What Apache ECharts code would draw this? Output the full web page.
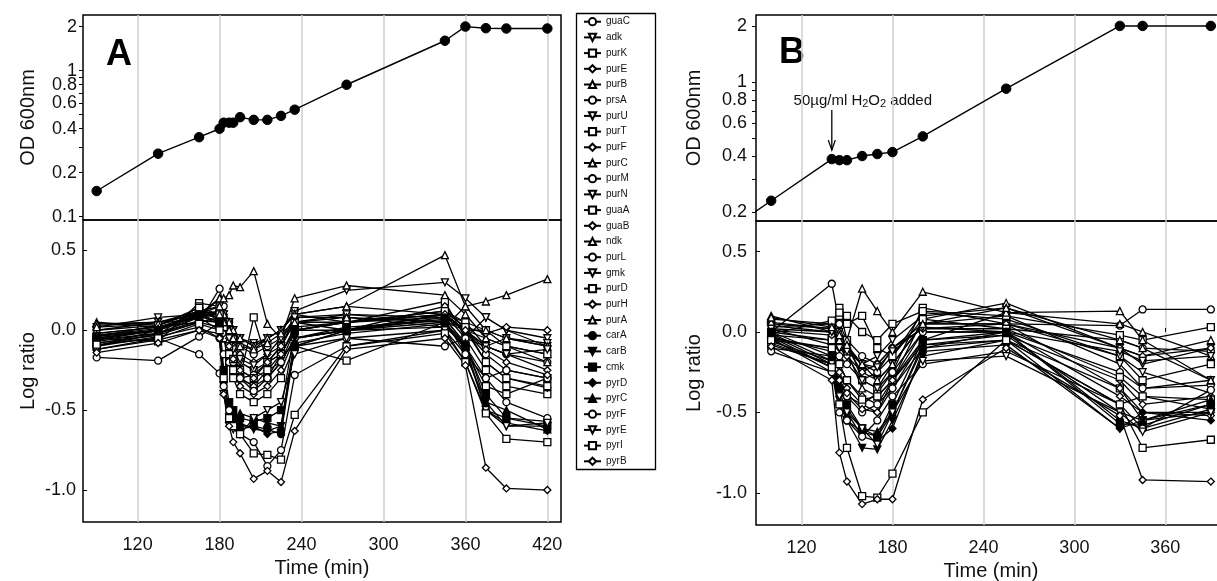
<!DOCTYPE html>
<html>
<head>
<meta charset="utf-8">
<script src="https://cdn.jsdelivr.net/npm/echarts@6/dist/echarts.min.js"></script>
<style>
  html, body { margin: 0; padding: 0; background: #fff; }
  #chart { width: 1217px; height: 581px; }
</style>
</head>
<body>
<div id="chart"></div>
<script>
// ---- growth curves, OD 600nm ----
var odTimesA = [90, 135, 165, 180, 183, 187, 190, 195, 205, 215, 225, 235, 273, 345, 360, 375, 390, 420];
var odA = [0.15, 0.27, 0.35, 0.40, 0.44, 0.44, 0.44, 0.48, 0.46, 0.46, 0.49, 0.54, 0.80, 1.6, 2.0, 1.95, 1.94, 1.94];
// first B point lies left of the axis, the line runs in from the edge
var odTimesB = [75, 100, 140, 145, 150, 160, 170, 180, 200, 255, 330, 345, 390];
var odB = [0.166, 0.23, 0.385, 0.38, 0.38, 0.40, 0.41, 0.42, 0.51, 0.92, 2.0, 2.0, 2.0];

// ---- sampling times of the log ratio panels ----
var timesA = [90, 135, 165, 180, 183, 187, 190, 195, 205, 215, 225, 235, 273, 345, 360, 375, 390, 420];
var timesB = [100, 140, 145, 150, 160, 170, 180, 200, 255, 330, 345, 390];

var genes = ['guaC', 'adk', 'purK', 'purE', 'purB', 'prsA', 'purU', 'purT', 'purF', 'purC',
  'purM', 'purN', 'guaA', 'guaB', 'ndk', 'purL', 'gmk', 'purD', 'purH', 'purA',
  'carA', 'carB', 'cmk', 'pyrD', 'pyrC', 'pyrF', 'pyrE', 'pyrI', 'pyrB'];

// panel A log ratios
var A_guaC = [-0.17, -0.19, -0.04, 0.05, 0.0, -0.1, -0.15, -0.2, -0.25, -0.3, -0.2, -0.05, 0.0, 0.02, -0.1, -0.3, -0.25, -0.3];
var A_adk = [0.02, 0.08, 0.1, 0.12, 0.1, 0.05, 0.0, -0.05, -0.08, -0.05, 0.0, 0.12, 0.25, 0.3, 0.2, 0.08, 0.0, -0.05];
var A_purK = [-0.05, -0.07, 0.17, 0.15, 0.05, -0.1, -0.2, -0.3, -0.35, -0.3, -0.15, 0.0, 0.05, 0.18, -0.05, -0.25, -0.35, -0.4];
var A_purE = [-0.03, 0.0, 0.1, 0.1, 0.0, -0.15, -0.25, -0.35, -0.4, -0.35, -0.25, -0.05, 0.0, 0.15, 0.0, -0.2, -0.3, -0.36];
var A_purB = [0.05, 0.02, 0.08, 0.2, 0.12, 0.05, -0.02, -0.08, -0.12, -0.05, 0.0, 0.1, 0.15, 0.1, 0.0, -0.05, -0.1, -0.15];
var A_prsA = [-0.1, -0.02, 0.05, 0.26, 0.15, 0.05, -0.05, -0.1, -0.15, -0.1, -0.05, 0.05, 0.1, 0.08, 0.0, -0.1, -0.15, -0.2];
var A_purU = [0.0, 0.03, 0.12, 0.1, 0.05, -0.05, -0.1, -0.2, -0.25, -0.2, -0.1, 0.05, 0.05, 0.1, -0.05, 0.08, 0.0, -0.1];
var A_purT = [-0.08, -0.03, 0.15, 0.05, -0.05, -0.2, -0.3, -0.4, -0.45, -0.4, -0.3, -0.1, -0.19, 0.05, -0.1, -0.35, -0.4, -0.3];
var A_purF = [-0.02, 0.02, 0.05, 0.08, 0.0, -0.1, -0.2, -0.3, -0.35, -0.25, -0.2, 0.0, 0.05, 0.12, 0.05, -0.1, -0.15, -0.25];
var A_purC = [0.03, 0.05, 0.1, 0.2, 0.2, 0.22, 0.28, 0.27, 0.37, 0.04, -0.05, 0.2, 0.28, 0.22, 0.1, -0.05, -0.1, -0.2];
var A_purM = [-0.12, -0.05, -0.15, -0.27, -0.15, -0.2, -0.25, -0.3, -0.28, -0.2, -0.15, -0.1, -0.05, -0.1, -0.05, -0.1, -0.05, -0.1];
var A_purN = [0.0, 0.05, 0.12, 0.15, 0.1, 0.05, 0.0, -0.05, -0.1, -0.05, 0.0, 0.1, 0.05, 0.08, 0.0, 0.0, -0.05, -0.08];
var A_guaA = [-0.1, 0.0, 0.1, 0.05, -0.05, -0.15, -0.25, -0.3, 0.08, -0.2, -0.1, 0.05, 0.0, 0.1, 0.05, 0.0, -0.1, -0.15];
var A_guaB = [-0.06, 0.0, 0.08, 0.12, 0.05, -0.05, -0.1, -0.15, -0.2, -0.15, -0.1, 0.08, 0.08, 0.05, 0.02, -0.02, 0.02, 0.0];
var A_ndk = [0.04, 0.05, 0.1, 0.15, 0.1, 0.05, 0.0, -0.05, -0.1, -0.05, 0.0, 0.1, 0.15, 0.47, 0.15, 0.0, -0.05, -0.1];
var A_purL = [-0.05, 0.0, 0.12, 0.1, 0.02, -0.08, -0.2, -0.3, -0.38, -0.3, -0.2, -0.05, 0.0, 0.1, 0.0, -0.15, -0.25, -0.3];
var A_gmk = [-0.02, 0.02, 0.1, 0.08, 0.0, -0.05, -0.12, -0.18, -0.22, -0.15, -0.05, 0.08, 0.1, 0.05, 0.0, -0.1, -0.15, -0.12];
var A_purD = [-0.04, 0.03, 0.14, 0.1, 0.02, -0.1, -0.18, -0.25, -0.3, -0.25, -0.15, 0.02, 0.05, 0.12, 0.02, -0.2, -0.3, -0.35];
var A_purH = [-0.07, -0.02, 0.06, 0.05, -0.02, -0.1, -0.18, -0.25, -0.3, -0.2, -0.15, 0.0, 0.05, 0.1, 0.0, -0.12, -0.2, -0.28];
var A_purA = [0.02, 0.04, 0.08, 0.1, 0.05, 0.0, -0.05, -0.1, -0.12, -0.08, -0.02, 0.05, 0.08, 0.02, 0.15, 0.18, 0.22, 0.32];
var A_carA = [-0.05, 0.0, 0.1, 0.05, -0.3, -0.55, -0.58, -0.6, -0.6, -0.62, -0.65, -0.1, 0.0, 0.08, -0.1, -0.5, -0.55, -0.57];
var A_carB = [-0.06, -0.02, 0.08, 0.0, -0.35, -0.5, -0.55, -0.58, -0.62, -0.63, -0.6, -0.05, 0.02, 0.06, -0.15, -0.45, -0.6, -0.6];
var A_cmk = [-0.04, 0.0, 0.1, 0.05, -0.25, -0.45, -0.5, -0.55, -0.57, -0.55, -0.5, 0.0, 0.0, 0.05, -0.1, -0.4, -0.55, -0.6];
var A_pyrD = [-0.08, -0.03, 0.05, 0.02, -0.4, -0.55, -0.6, -0.62, -0.6, -0.65, -0.63, -0.08, -0.02, 0.04, -0.12, -0.5, -0.58, -0.63];
var A_pyrC = [-0.03, 0.01, 0.09, 0.04, -0.3, -0.5, -0.55, -0.52, -0.55, -0.58, -0.6, -0.1, 0.0, 0.07, -0.08, -0.45, -0.5, -0.62];
var A_pyrF = [-0.1, -0.04, 0.02, -0.05, -0.35, -0.5, -0.6, -0.65, -0.7, -0.85, -0.75, -0.28, -0.1, 0.0, -0.15, -0.3, -0.45, -0.55];
var A_pyrE = [-0.12, -0.06, 0.0, -0.02, -0.4, -0.6, -0.62, -0.65, -0.55, -0.5, -0.45, -0.15, -0.05, 0.0, -0.2, -0.5, -0.6, -0.58];
var A_pyrI = [-0.09, -0.05, 0.04, 0.0, -0.3, -0.55, -0.6, -0.65, -0.77, -0.78, -0.81, -0.53, -0.1, -0.02, -0.2, -0.52, -0.68, -0.7];
var A_pyrB = [-0.14, -0.08, 0.0, -0.05, -0.4, -0.6, -0.7, -0.77, -0.93, -0.88, -0.95, -0.63, -0.12, -0.05, -0.22, -0.86, -0.99, -1.0];

// panel B log ratios
var B_guaC = [0.0, 0.30, 0.05, -0.05, -0.15, -0.2, -0.1, 0.05, 0.05, 0.04, 0.14, 0.14];
var B_adk = [0.05, 0.02, -0.05, -0.1, -0.2, -0.15, -0.05, 0.1, 0.15, -0.1, -0.2, -0.1];
var B_purK = [-0.02, -0.05, 0.15, -0.05, -0.3, -0.35, -0.25, 0.15, 0.05, -0.35, -0.55, -0.45];
var B_purE = [0.02, -0.08, -0.2, -0.3, -0.4, -0.45, -0.3, 0.0, 0.0, -0.4, -0.5, -0.5];
var B_purB = [0.1, 0.0, -0.05, -0.1, -0.2, -0.25, -0.15, 0.08, 0.18, -0.1, -0.15, -0.05];
var B_prsA = [-0.05, -0.1, -0.15, -0.2, -0.3, -0.25, -0.1, 0.02, 0.02, -0.05, -0.1, -0.12];
var B_purU = [0.03, 0.05, 0.0, -0.1, -0.25, -0.3, -0.2, 0.05, 0.1, -0.2, -0.35, -0.3];
var B_purT = [0.0, -0.05, 0.1, 0.05, 0.1, -0.1, -0.15, 0.12, 0.08, -0.15, -0.3, -0.2];
var B_purF = [-0.03, -0.12, -0.25, -0.35, -0.45, -0.5, -0.35, -0.05, -0.02, -0.3, -0.45, -0.4];
var B_purC = [0.08, 0.05, 0.0, -0.05, 0.27, 0.13, 0.0, 0.25, 0.12, 0.05, 0.0, -0.15];
var B_purM = [-0.08, -0.2, -0.3, -0.4, -0.45, -0.38, -0.25, 0.0, 0.0, -0.25, -0.35, -0.33];
var B_purN = [0.04, 0.0, -0.08, -0.15, -0.3, -0.35, -0.2, 0.05, 0.05, -0.15, -0.25, -0.38];
var B_guaA = [-0.01, 0.07, 0.12, 0.1, 0.0, -0.05, 0.05, 0.13, 0.1, -0.02, -0.05, 0.03];
var B_guaB = [0.01, -0.02, -0.1, -0.15, -0.25, -0.2, -0.1, 0.02, 0.05, -0.1, -0.15, -0.1];
var B_ndk = [0.06, 0.02, -0.05, -0.12, -0.35, -0.4, -0.3, -0.05, 0.12, 0.13, -0.05, -0.3];
var B_purL = [-0.1, -0.15, -0.35, -0.4, -0.5, -0.45, -0.35, -0.1, -0.05, -0.45, -0.4, -0.48];
var B_gmk = [0.02, 0.0, -0.1, -0.12, -0.2, -0.22, -0.12, 0.03, 0.0, -0.12, -0.18, -0.15];
var B_purD = [-0.04, -0.1, -0.2, -0.3, -0.42, -0.4, -0.3, 0.08, 0.02, -0.28, -0.4, -0.42];
var B_purH = [-0.06, -0.18, -0.3, -0.38, -0.48, -0.5, -0.3, -0.08, -0.05, -0.35, -0.5, -0.52];
var B_purA = [0.09, 0.03, -0.02, -0.08, -0.2, -0.3, -0.2, 0.05, 0.15, -0.05, -0.1, -0.3];
var B_carA = [-0.02, -0.2, -0.45, -0.55, -0.62, -0.65, -0.5, -0.1, 0.0, -0.55, -0.6, -0.48];
var B_carB = [-0.03, -0.22, -0.4, -0.55, -0.72, -0.73, -0.55, -0.15, -0.05, -0.6, -0.55, -0.5];
var B_cmk = [0.0, -0.15, -0.35, -0.45, -0.6, -0.65, -0.45, -0.05, 0.0, -0.57, -0.58, -0.45];
var B_pyrD = [-0.04, -0.25, -0.45, -0.5, -0.65, -0.68, -0.6, -0.12, -0.08, -0.6, -0.5, -0.55];
var B_pyrC = [-0.01, -0.18, -0.38, -0.48, -0.6, -0.62, -0.5, -0.08, -0.02, -0.5, -0.55, -0.42];
var B_pyrF = [-0.12, -0.25, -0.5, -0.55, -0.65, -0.55, -0.4, -0.2, -0.12, -0.45, -0.6, -0.36];
var B_pyrE = [-0.07, -0.2, -0.4, -0.5, -0.6, -0.7, -0.5, -0.18, -0.15, -0.5, -0.62, -0.5];
var B_pyrI = [-0.05, -0.22, -0.45, -0.72, -1.02, -1.03, -0.88, -0.5, -0.05, -0.45, -0.72, -0.67];
var B_pyrB = [-0.09, -0.3, -0.75, -0.93, -1.07, -1.04, -1.04, -0.42, -0.1, -0.52, -0.92, -0.93];

var ratioA = [A_guaC, A_adk, A_purK, A_purE, A_purB, A_prsA, A_purU, A_purT, A_purF, A_purC,
  A_purM, A_purN, A_guaA, A_guaB, A_ndk, A_purL, A_gmk, A_purD, A_purH, A_purA,
  A_carA, A_carB, A_cmk, A_pyrD, A_pyrC, A_pyrF, A_pyrE, A_pyrI, A_pyrB];
var ratioB = [B_guaC, B_adk, B_purK, B_purE, B_purB, B_prsA, B_purU, B_purT, B_purF, B_purC,
  B_purM, B_purN, B_guaA, B_guaB, B_ndk, B_purL, B_gmk, B_purD, B_purH, B_purA,
  B_carA, B_carB, B_cmk, B_pyrD, B_pyrC, B_pyrF, B_pyrE, B_pyrI, B_pyrB];

var xTicksA = [120, 180, 240, 300, 360, 420];
var xTicksB = [120, 180, 240, 300, 360];
var odLabelsA = [0.1, 0.2, 0.4, 0.6, 0.8, 1, 2];
var odTicksA = [0.1, 0.2, 0.3, 0.4, 0.5, 0.6, 0.7, 0.8, 0.9, 1, 2];
var odLabelsB = [0.2, 0.4, 0.6, 0.8, 1, 2];
var odTicksB = [0.2, 0.3, 0.4, 0.5, 0.6, 0.7, 0.8, 0.9, 1, 2];
var ratioLabels = [-1.0, -0.5, 0.0, 0.5];

// symbol cycle: circle, triangle down, square, diamond, triangle up
var shapes = [
  { symbol: 'circle', rot: 0 },
  { symbol: 'triangle', rot: 180 },
  { symbol: 'rect', rot: 0 },
  { symbol: 'diamond', rot: 0 },
  { symbol: 'triangle', rot: 0 }
];

var FONT = '"Liberation Sans", Arial, sans-serif';
var myChart = echarts.init(document.getElementById('chart'), null, { renderer: 'canvas' });

function xAxis(grid, min, max, ticks, showLabels, gap) {
  return {
    gridIndex: grid, type: 'value', min: min, max: max,
    axisLine: { show: false },
    axisTick: { show: showLabels, inside: true, length: 4, customValues: ticks, lineStyle: { color: '#000' } },
    axisLabel: {
      show: showLabels, customValues: ticks, margin: 14,
      fontSize: 18, color: '#111', fontFamily: FONT
    },
    splitLine: { show: true, lineStyle: { color: '#cfcfcf', width: 1.5 } },
    name: showLabels ? 'Time (min)' : '', nameLocation: 'middle', nameGap: gap,
    nameTextStyle: { fontSize: 20, color: '#111', fontFamily: FONT }
  };
}

function odAxis(grid, min, max, ticks, labels, margin, gap) {
  return {
    gridIndex: grid, type: 'log', logBase: 10, min: min, max: max,
    axisLine: { show: false },
    axisTick: { show: true, inside: false, length: 4, customValues: ticks, lineStyle: { color: '#000' } },
    axisLabel: {
      customValues: labels, margin: margin, fontSize: 18, color: '#111', fontFamily: FONT,
      formatter: function (v) { return String(+(+v).toFixed(2)); }
    },
    splitLine: { show: false },
    name: 'OD 600nm', nameLocation: 'middle', nameGap: gap,
    nameTextStyle: { fontSize: 20, color: '#111', fontFamily: FONT }
  };
}

function ratioAxis(grid, margin, gap) {
  return {
    gridIndex: grid, type: 'value', min: -1.2, max: 0.69,
    axisLine: { show: false },
    axisTick: { show: true, inside: true, length: 4, customValues: ratioLabels, lineStyle: { color: '#000' } },
    axisLabel: {
      customValues: ratioLabels, margin: margin, fontSize: 18, color: '#111', fontFamily: FONT,
      formatter: function (v) { return (+v).toFixed(1); }
    },
    splitLine: { show: false },
    name: 'Log ratio', nameLocation: 'middle', nameGap: gap,
    nameTextStyle: { fontSize: 20, color: '#111', fontFamily: FONT }
  };
}

function gridBox(left, top, width, height) {
  return {
    left: left, top: top, width: width, height: height,
    show: true, borderColor: '#000', borderWidth: 1.5, backgroundColor: 'transparent',
    outerBoundsMode: 'none', containLabel: false
  };
}

function odSeries(axis, times, vals) {
  return {
    name: 'OD', type: 'line', xAxisIndex: axis, yAxisIndex: axis,
    data: times.map(function (t, i) { return [t, vals[i]]; }),
    symbol: 'circle', symbolSize: 9.5,
    lineStyle: { color: '#000', width: 1.4 },
    itemStyle: { color: '#000', borderColor: '#000' },
    emphasis: { disabled: true }, z: 5
  };
}

function ratioSeries(gi, axis, times, vals) {
  var sh = shapes[gi % 5];
  var filled = gi >= 20 && gi < 25;
  return {
    name: genes[gi], type: 'line', xAxisIndex: axis, yAxisIndex: axis,
    data: times.map(function (t, i) { return [t, vals[i]]; }),
    symbol: sh.symbol, symbolRotate: sh.rot, symbolSize: 7,
    lineStyle: { color: '#000', width: 1.3 },
    itemStyle: { color: filled ? '#000' : '#fff', borderColor: '#000', borderWidth: 1.3 },
    emphasis: { disabled: true }
  };
}

var series = [odSeries(0, odTimesA, odA), odSeries(2, odTimesB, odB)];
genes.forEach(function (g, i) {
  series.push(ratioSeries(i, 1, timesA, ratioA[i]));
  series.push(ratioSeries(i, 3, timesB, ratioB[i]));
});

var option = {
  backgroundColor: '#fff',
  animation: false,
  textStyle: { fontFamily: FONT },
  grid: [
    gridBox(83, 15, 478, 205),
    gridBox(83, 220, 478, 302),
    gridBox(756, 15, 470, 206),
    gridBox(756, 221, 470, 304)
  ],
  xAxis: [
    xAxis(0, 80, 430, xTicksA, false, 0),
    xAxis(1, 80, 430, xTicksA, true, 35),
    xAxis(2, 90, 400, xTicksB, false, 0),
    xAxis(3, 90, 400, xTicksB, true, 33)
  ],
  yAxis: [
    odAxis(0, 0.095, 2.4, odTicksA, odLabelsA, 6, 45),
    ratioAxis(1, 7, 45),
    odAxis(2, 0.179, 2.29, odTicksB, odLabelsB, 9, 52),
    ratioAxis(3, 9, 52)
  ],
  legend: {
    data: genes, orient: 'vertical', left: 583, top: 15.7,
    itemWidth: 17, itemHeight: 9, itemGap: 3.7, selectedMode: false,
    textStyle: { fontSize: 10, lineHeight: 12, color: '#111', fontFamily: FONT },
    padding: 0
  },
  graphic: [
    { type: 'rect', id: 'legendBox', shape: { x: 576.5, y: 13.5, width: 79, height: 456 },
      style: { fill: 'none', stroke: '#000', lineWidth: 1.3 }, silent: true },
    { type: 'text', id: 'labA', style: { text: 'A', x: 119, y: 55, align: 'center', verticalAlign: 'middle',
      font: 'bold 36px "Liberation Sans Narrow", "Liberation Sans", sans-serif', fill: '#000' } },
    { type: 'text', id: 'labB', style: { text: 'B', x: 792, y: 53, align: 'center', verticalAlign: 'middle',
      font: 'bold 36px "Liberation Sans Narrow", "Liberation Sans", sans-serif', fill: '#000' } }
  ],
  series: series
};

myChart.setOption(option);

// H2O2 addition arrow, placed over the 140 min point of the B curve
var p = myChart.convertToPixel({ xAxisIndex: 2, yAxisIndex: 2 }, [odTimesB[2], odB[2]]);
myChart.setOption({
  graphic: [
    { type: 'line', id: 'arrowShaft', shape: { x1: p[0], y1: p[1] - 49, x2: p[0], y2: p[1] - 9 },
      style: { stroke: '#000', lineWidth: 1.3 } },
    { type: 'polyline', id: 'arrowHead', shape: { points: [[p[0] - 3.5, p[1] - 19], [p[0], p[1] - 9], [p[0] + 3.5, p[1] - 19]] },
      style: { stroke: '#000', lineWidth: 1.3, fill: 'none' } },
    { type: 'text', id: 'h2o2', style: {
      text: '{a|50µg/ml H}{s|2}{a|O}{s|2}{a| added}', x: p[0] + 31, y: p[1] - 58,
      align: 'center', verticalAlign: 'middle',
      rich: {
        a: { fontSize: 15, lineHeight: 16, verticalAlign: 'top', fontFamily: FONT, fill: '#111' },
        s: { fontSize: 11, lineHeight: 16, verticalAlign: 'bottom', padding: [6, 0, 0, 0], fontFamily: FONT, fill: '#111' }
      }
    } }
  ]
});
</script>
</body>
</html>
